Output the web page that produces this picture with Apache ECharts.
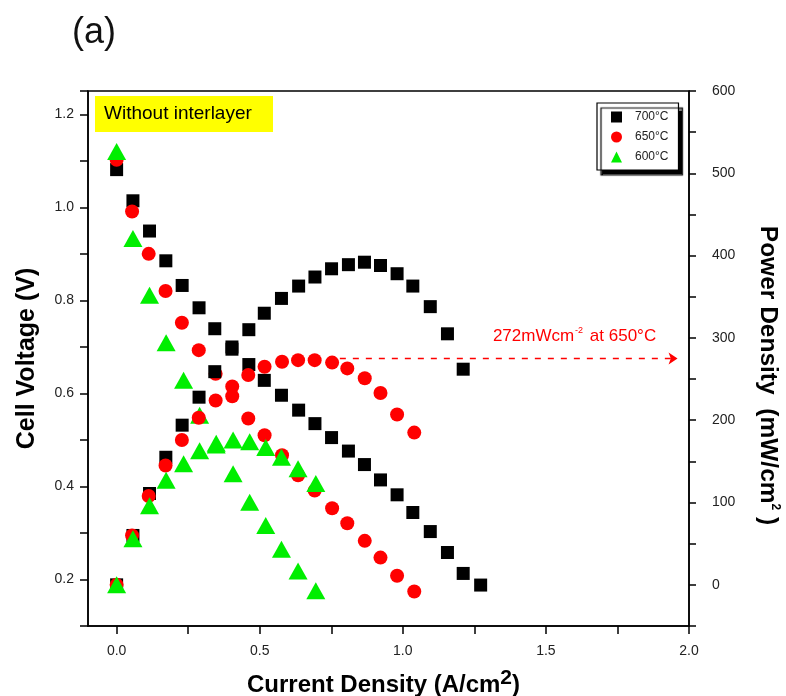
<!DOCTYPE html>
<html>
<head>
<meta charset="utf-8">
<script src="https://cdn.jsdelivr.net/npm/echarts@6/dist/echarts.min.js"></script>
<style>
  html, body { margin: 0; padding: 0; background: #fff; }
  #chart { width: 786px; height: 696px; }
</style>
</head>
<body>
<div id="chart"></div>
<script>
// ---- data ----
const seriesNames = ['700°C', '650°C', '600°C'];

const x700 = [0, 0.057, 0.115, 0.172, 0.229, 0.288, 0.343, 0.403, 0.462, 0.516, 0.576, 0.636, 0.693, 0.751, 0.810, 0.866, 0.922, 0.980, 1.035, 1.096, 1.156, 1.211, 1.272];
const v700 = [1.081, 1.014, 0.949, 0.885, 0.832, 0.784, 0.739, 0.695, 0.662, 0.628, 0.596, 0.564, 0.535, 0.505, 0.476, 0.447, 0.414, 0.382, 0.344, 0.303, 0.258, 0.213, 0.188];
const p700 = [0, 60, 111, 155, 194, 228, 259, 289, 310, 330, 348, 363, 374, 384, 389, 392, 388, 378, 363, 338, 305, 262];

const x650 = [0, 0.054, 0.112, 0.171, 0.228, 0.287, 0.346, 0.404, 0.460, 0.517, 0.578, 0.634, 0.692, 0.753, 0.806, 0.867, 0.922, 0.980, 1.040];
const v650 = [1.102, 0.991, 0.900, 0.820, 0.752, 0.693, 0.642, 0.594, 0.546, 0.510, 0.467, 0.424, 0.391, 0.353, 0.321, 0.283, 0.247, 0.208, 0.174];
const p650 = [0, 60, 108, 145, 176, 203, 224, 241, 255, 265, 271, 273, 273, 270, 263, 251, 233, 207, 185];

const x600 = [0, 0.057, 0.115, 0.173, 0.234, 0.290, 0.348, 0.407, 0.465, 0.521, 0.576, 0.634, 0.696];
const v600 = [1.120, 0.933, 0.811, 0.709, 0.628, 0.553, 0.489, 0.427, 0.366, 0.316, 0.265, 0.218, 0.176];
const p600 = [0, 56, 96, 127, 147, 163, 172, 176, 174, 167, 155, 141, 123];

// annotation
const peakPower650 = 275;          // height of dashed arrow (mW/cm2)
const arrowX = [0.78, 1.96];       // start / end of dashed arrow (A/cm2)
const annotationPos = [1.60, 302]; // label anchor in data space

// axis ranges / ticks
const xRange = [-0.1, 2.0];
const xTicks = [0, 0.25, 0.5, 0.75, 1.0, 1.25, 1.5, 1.75, 2.0];
const xLabels = [0, 0.5, 1.0, 1.5, 2.0];
const vRange = [0.1, 1.25];
const pRange = [-50, 600];

// ---- helpers ----
function pairs(xs, ys) { return ys.map((y, i) => [xs[i], y]); }

const colors = ['#000000', '#ff0000', '#00ee00'];
const symbols = ['rect', 'circle', 'triangle'];
const sizes = [13, 14, [19, 17]];

const voltageSets = [[x700, v700], [x650, v650], [x600, v600]];
const powerSets = [[x700, p700], [x650, p650], [x600, p600]];

const series = [];
voltageSets.forEach((s, i) => {
  series.push({
    name: seriesNames[i], type: 'scatter', xAxisIndex: 0, yAxisIndex: 0,
    symbol: symbols[i], symbolSize: sizes[i],
    itemStyle: { color: colors[i], opacity: 1 },
    data: pairs(s[0], s[1]), z: 3 + i
  });
});
powerSets.forEach((s, i) => {
  const ser = {
    name: seriesNames[i], type: 'scatter', xAxisIndex: 0, yAxisIndex: 1,
    symbol: symbols[i], symbolSize: sizes[i],
    itemStyle: { color: colors[i], opacity: 1 },
    data: pairs(s[0], s[1]), z: 6 + i
  };
  if (i === 1) {
    ser.markLine = {
      silent: true, animation: false,
      symbol: ['none', 'arrow'], symbolSize: [9, 9],
      lineStyle: { color: '#ff0000', type: [6, 7], width: 1.3 },
      label: { show: false },
      data: [[{ coord: [arrowX[0], peakPower650] }, { coord: [arrowX[1], peakPower650] }]]
    };
    ser.markPoint = {
      silent: true, animation: false,
      symbol: 'circle', symbolSize: 0,
      label: {
        show: true, position: 'inside',
        formatter: '{a|272mWcm}{s|-2}{a| at 650°C}',
        rich: {
          a: { color: '#ff0000', fontSize: 17, fontFamily: 'Liberation Sans, Arial' },
          s: { color: '#ff0000', fontSize: 9, fontFamily: 'Liberation Sans, Arial', padding: [0, 2, 12, 1] }
        }
      },
      data: [{ coord: annotationPos }]
    };
  }
  series.push(ser);
});

const tickFont = { fontFamily: 'Liberation Sans, Arial', fontSize: 14, color: '#222' };
const nameFont = { fontFamily: 'Liberation Sans, Arial', fontWeight: 'bold', color: '#000' };

const chart = echarts.init(document.getElementById('chart'), null, { renderer: 'canvas' });
chart.setOption({
  animation: false,
  backgroundColor: '#ffffff',
  grid: {
    left: 88, right: 97, top: 91, bottom: 70, containLabel: false, outerBoundsMode: 'none',
    show: true, borderColor: '#000', borderWidth: 1.5, backgroundColor: 'transparent'
  },
  legend: {
    data: seriesNames,
    left: 597, top: 103, orient: 'vertical',
    backgroundColor: '#ffffff', borderColor: '#000', borderWidth: 1.2,
    shadowColor: '#000', shadowBlur: 1, shadowOffsetX: 4, shadowOffsetY: 5,
    padding: [8, 10, 7, 14], itemWidth: 11, itemHeight: 11, itemGap: 8,
    textStyle: { fontFamily: 'Liberation Sans, Arial', fontSize: 12, color: '#222', padding: [0, 0, 0, 8] }
  },
  xAxis: {
    type: 'value', min: xRange[0], max: xRange[1],
    position: 'bottom',
    name: '{a|Current Density (A/cm}{s|2}{a|)}',
    nameLocation: 'middle', nameGap: 42,
    nameTextStyle: {
      padding: [0, 10, 0, 0],
      rich: {
        a: Object.assign({ fontSize: 24 }, nameFont),
        s: Object.assign({ fontSize: 21, padding: [0, 0, 14, 0] }, nameFont)
      }
    },
    axisLine: { show: true, onZero: false, lineStyle: { color: '#000', width: 1.5 } },
    axisTick: { show: true, inside: false, length: 8, customValues: xTicks, lineStyle: { color: '#000', width: 1.5 } },
    axisLabel: Object.assign({
      margin: 18, customValues: xLabels,
      formatter: v => v.toFixed(1)
    }, tickFont),
    splitLine: { show: false }
  },
  yAxis: [
    {
      type: 'value', min: vRange[0], max: vRange[1], interval: 0.1, position: 'left',
      name: 'Cell Voltage (V)', nameLocation: 'middle', nameGap: 48, nameRotate: 90,
      nameTextStyle: Object.assign({ fontSize: 25 }, nameFont),
      axisLine: { show: true, onZero: false, lineStyle: { color: '#000', width: 1.5 } },
      axisTick: { show: true, inside: false, length: 8, lineStyle: { color: '#000', width: 1.5 } },
      axisLabel: Object.assign({
        margin: 14,
        formatter: v => { const k = Math.round(v * 10); return (k % 2 === 0 && k >= 2) ? (k / 10).toFixed(1) : ''; }
      }, tickFont),
      splitLine: { show: false }
    },
    {
      type: 'value', min: pRange[0], max: pRange[1], interval: 50, position: 'right',
      name: '{a|Power Density  (mW/cm}{s|2}{a| )}', nameLocation: 'middle', nameGap: 66, nameRotate: -90,
      nameTextStyle: {
        padding: [0, 0, 0, 34],
        rich: {
          a: Object.assign({ fontSize: 24.5 }, nameFont),
          s: Object.assign({ fontSize: 12, padding: [0, 0, 14, 0] }, nameFont)
        }
      },
      axisLine: { show: true, onZero: false, lineStyle: { color: '#000', width: 1.5 } },
      axisTick: { show: true, inside: false, length: 7, lineStyle: { color: '#000', width: 1.5 } },
      axisLabel: Object.assign({
        margin: 23,
        formatter: v => { const k = Math.round(v); return (k % 100 === 0 && k >= 0) ? String(k) : ''; }
      }, tickFont),
      splitLine: { show: false }
    }
  ],
  graphic: [
    { type: 'text', left: 72, top: 15, style: { text: '(a)', fontSize: 36, fontFamily: 'Liberation Sans, Arial', fill: '#111' } },
    { type: 'rect', shape: { x: 95, y: 96, width: 178, height: 36 }, style: { fill: '#ffff00' }, z: 1 },
    { type: 'text', x: 104, y: 114, style: { text: 'Without interlayer', fontSize: 19, fontFamily: 'Liberation Sans, Arial', fill: '#000', verticalAlign: 'middle' }, z: 2 }
  ],
  series: series
});
</script>
</body>
</html>
